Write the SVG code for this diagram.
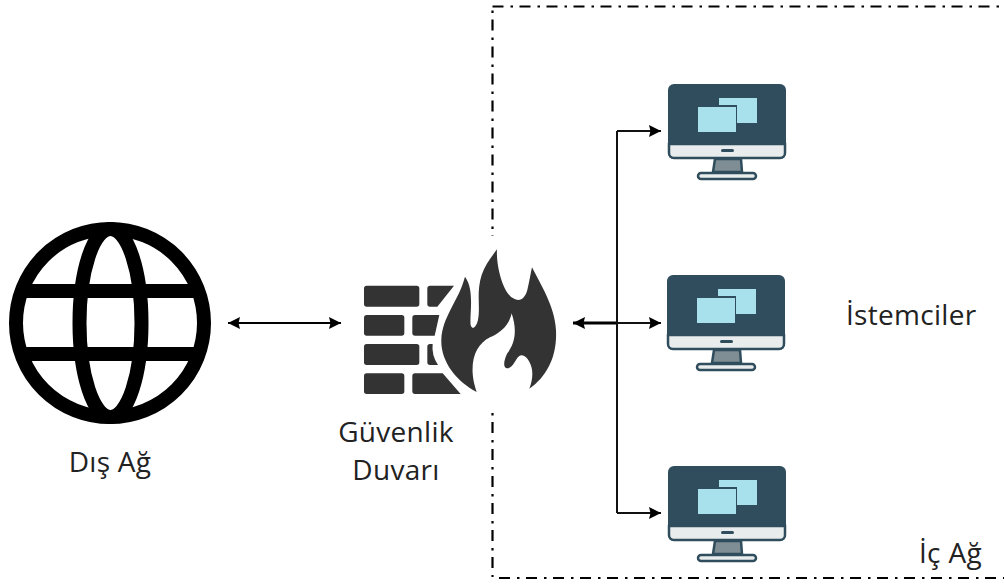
<svg xmlns="http://www.w3.org/2000/svg" width="1004" height="585" viewBox="0 0 1004 585">
<style>
.lbl{font-family:"Open Sans","Noto Sans",sans-serif;font-size:28px;letter-spacing:.3px;fill:#222}
.c{fill:none;stroke:#111;stroke-width:2}
.thin{fill:none;stroke:#000;stroke-width:2}
.brick{fill:#333}
.b{fill:none;stroke:#000;stroke-width:2.200;stroke-dasharray:11 7 2.500 6.500}
</style>
<defs>
<marker id="a" markerUnits="userSpaceOnUse" markerWidth="13" markerHeight="12" refX="12" refY="6" orient="auto-start-reverse"><path d="M0 0L12 6L0 12L1.500 6Z" fill="#000"/></marker>
<clipPath id="gc"><circle cx="110" cy="323" r="95"/></clipPath>
<g id="mon">
<rect x="1" y="1" width="118" height="75" rx="6" fill="#2f4d5d"/>
<path d="M2 61H118V70a5 5 0 0 1-5 5H7a5 5 0 0 1-5-5Z" fill="#e9eced" stroke="#2f4d5d" stroke-width="2.500"/>
<rect x="54" y="66" width="13" height="3" rx="1.500" fill="#2f4d5d"/>
<path d="M48 76H74L75 89H46Z" fill="#7f8e94" stroke="#2f4d5d" stroke-width="2.500"/>
<rect x="31" y="90" width="58" height="6" rx="3" fill="#e9eced" stroke="#2f4d5d" stroke-width="2.500"/>
<rect x="52" y="15" width="38" height="25" fill="#a8e0ec"/>
<rect x="29" y="22" width="41" height="28" fill="#2f4d5d"/>
<rect x="31" y="24" width="38" height="25" fill="#a8e0ec"/>
</g>
</defs>
<rect width="1004" height="585" fill="#fff"/>
<g id="boundary">
<path class="b" d="M492.500 6.500H1004"/>
<path class="b" d="M492.500 6.500V236" stroke-dashoffset="14"/>
<path class="b" d="M492.500 413V577" stroke-dashoffset="18"/>
<path class="b" d="M492.500 578H1004" stroke-dashoffset="20.500"/>
</g>
<g id="connectors">
<path class="thin" d="M228 323H341" marker-start="url(#a)" marker-end="url(#a)"/>
<path fill="none" stroke="#000" stroke-width="3" d="M573 323H617" marker-start="url(#a)"/>
<path class="c" d="M617 323H661" marker-end="url(#a)"/>
<path class="c" d="M617 131V513"/>
<path class="c" d="M617 131H661" marker-end="url(#a)"/>
<path class="c" d="M617 513H661" marker-end="url(#a)"/>
</g>
<g id="dis-ag">
<g fill="none" stroke="#000" stroke-width="14">
<circle cx="110" cy="323" r="94"/>
<ellipse cx="110.500" cy="323" rx="31" ry="94"/>
<path clip-path="url(#gc)" d="M10 291H210M10 354H210"/>
</g>
<text class="lbl" x="110" y="472" text-anchor="middle">Dış Ağ</text>
</g>
<g id="guvenlik-duvari">
<g transform="translate(350 240) scale(.3333)">
<rect class="brick" x="42" y="137" width="166" height="63" rx="8"/>
<path class="brick" d="M240 137H312L262 200H240a8 8 0 0 1-8-8V145a8 8 0 0 1 8-8Z"/>
<rect class="brick" x="42" y="225" width="121" height="62" rx="8"/>
<path class="brick" d="M195 225H268L254 287H195a8 8 0 0 1-8-8V233a8 8 0 0 1 8-8Z"/>
<rect class="brick" x="42" y="312" width="166" height="63" rx="8"/>
<path class="brick" d="M240 312H248Q244 345 264 375H240a8 8 0 0 1-8-8V320a8 8 0 0 1 8-8Z"/>
<rect class="brick" x="42" y="400" width="121" height="62" rx="8"/>
<path class="brick" d="M195 400H278L332 462H195a8 8 0 0 1-8-8V408a8 8 0 0 1 8-8Z"/>
<path d="M380 456C320 425 272 365 274 300C276 230 325 185 345 110C375 150 358 225 362 255C366 270 378 265 384 240C392 200 378 160 395 105C405 75 425 50 441 28C438 80 460 160 490 175C510 188 525 175 532 150C538 125 542 100 546 82C570 130 615 200 618 270C622 350 590 410 538 446C548 420 552 390 538 365C530 350 518 342 508 348C495 358 490 385 470 385C458 382 462 360 472 340C490 315 505 280 485 220C478 255 450 280 420 292C385 310 365 345 368 400C370 425 375 440 380 456Z" fill="#333"/>
</g>
<text class="lbl" x="396" y="442" text-anchor="middle">Güvenlik</text>
<text class="lbl" x="396" y="480" text-anchor="middle">Duvarı</text>
</g>
<use id="istemci-1" href="#mon" x="667" y="83"/>
<use id="istemci-2" href="#mon" x="666" y="274"/>
<use id="istemci-3" href="#mon" x="667" y="465"/>
<text id="istemciler" class="lbl" x="846" y="325">İstemciler</text>
<text id="ic-ag" class="lbl" x="919" y="563">İç Ağ</text>
</svg>
